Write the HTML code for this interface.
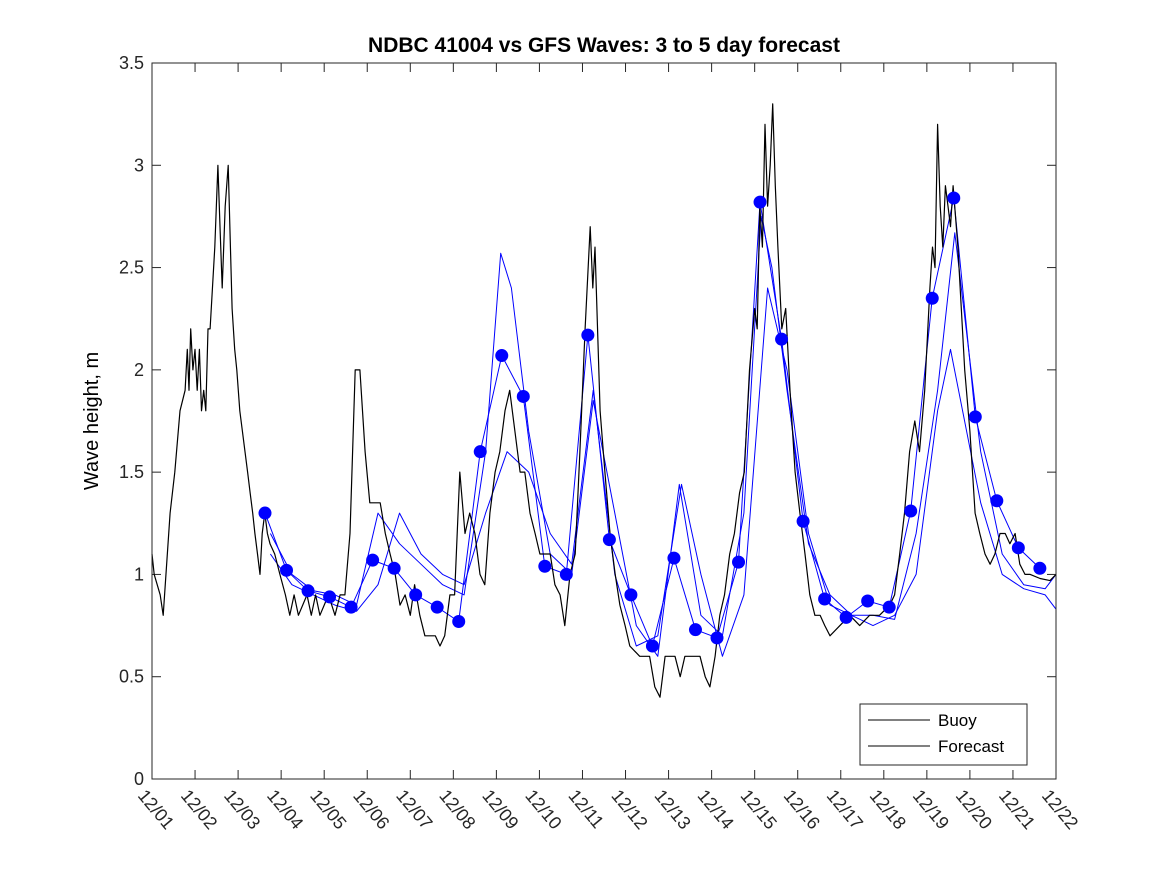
<!DOCTYPE html>
<html><head><meta charset="utf-8"><style>
body{margin:0;background:#fff}
svg{display:block;font-family:"Liberation Sans",sans-serif}
</style></head><body>
<svg id="chart" width="1167" height="875" viewBox="0 0 1167 875" xmlns="http://www.w3.org/2000/svg">
<rect x="0" y="0" width="1167" height="875" fill="#fff"/>
<text x="604" y="52" text-anchor="middle" font-size="21" font-weight="bold">NDBC 41004 vs GFS Waves: 3 to 5 day forecast</text>
<text transform="translate(98,421) rotate(-90)" text-anchor="middle" font-size="20">Wave height, m</text>
<g id="grid"></g>
<g id="series"></g>
<rect x="152" y="63" width="904" height="716" fill="none" stroke="#262626" stroke-width="1"/>
<g>
<rect x="860" y="704" width="167" height="61" fill="#fff" stroke="#262626" stroke-width="1"/>
<line x1="868" y1="720" x2="930" y2="720" stroke="#000" stroke-width="1"/>
<text x="938" y="726" font-size="17">Buoy</text>
<line x1="868" y1="746" x2="930" y2="746" stroke="#000" stroke-width="1"/>
<text x="938" y="752" font-size="17">Forecast</text>
</g>
</svg>
<script>
const xTickLabels=["12/01","12/02","12/03","12/04","12/05","12/06","12/07","12/08","12/09","12/10","12/11","12/12","12/13","12/14","12/15","12/16","12/17","12/18","12/19","12/20","12/21","12/22"];
const yTicks=[0,0.5,1,1.5,2,2.5,3,3.5];
const yTickLabels=["0","0.5","1","1.5","2","2.5","3","3.5"];
const buoyDays=[0,0.05,0.19,0.26,0.42,0.53,0.65,0.77,0.82,0.86,0.9,0.95,1.0,1.05,1.1,1.15,1.2,1.25,1.3,1.35,1.46,1.53,1.58,1.63,1.7,1.77,1.86,1.92,1.97,2.04,2.1,2.16,2.22,2.28,2.34,2.39,2.45,2.51,2.56,2.62,2.68,2.74,2.85,2.97,3.1,3.2,3.3,3.4,3.5,3.6,3.7,3.8,3.9,4.0,4.1,4.25,4.37,4.48,4.6,4.66,4.72,4.83,4.95,5.06,5.18,5.3,5.42,5.53,5.65,5.76,5.88,6.0,6.1,6.22,6.34,6.46,6.58,6.69,6.8,6.92,7.03,7.15,7.27,7.38,7.5,7.62,7.73,7.85,7.97,8.08,8.2,8.31,8.43,8.55,8.66,8.78,8.9,9.01,9.13,9.25,9.36,9.48,9.59,9.71,9.83,9.94,10.06,10.18,10.24,10.29,10.41,10.52,10.64,10.76,10.87,10.99,11.1,11.33,11.45,11.56,11.68,11.8,11.92,12.03,12.15,12.27,12.38,12.5,12.73,12.85,12.96,13.08,13.19,13.3,13.42,13.53,13.65,13.76,13.88,14.0,14.06,14.12,14.18,14.24,14.3,14.36,14.42,14.48,14.54,14.63,14.72,14.82,14.94,15.05,15.17,15.28,15.4,15.52,15.63,15.75,15.98,16.21,16.44,16.67,16.9,17.14,17.25,17.37,17.48,17.6,17.72,17.83,17.95,18.07,18.13,18.19,18.25,18.31,18.37,18.43,18.49,18.55,18.61,18.72,18.8,18.88,19.0,19.12,19.23,19.35,19.47,19.58,19.7,19.82,19.93,20.05,20.16,20.28,20.4,20.63,20.86,21.0];
const buoyVals=[1.1,1.0,0.9,0.8,1.3,1.5,1.8,1.9,2.1,1.9,2.2,2.0,2.1,1.9,2.1,1.8,1.9,1.8,2.2,2.2,2.6,3.0,2.7,2.4,2.8,3.0,2.3,2.1,2.0,1.8,1.7,1.6,1.5,1.4,1.3,1.2,1.1,1.0,1.2,1.3,1.2,1.15,1.1,1.0,0.9,0.8,0.9,0.8,0.85,0.9,0.8,0.9,0.8,0.85,0.9,0.8,0.9,0.9,1.2,1.6,2.0,2.0,1.6,1.35,1.35,1.35,1.2,1.1,1.0,0.85,0.9,0.8,0.95,0.8,0.7,0.7,0.7,0.65,0.7,0.9,0.9,1.5,1.2,1.3,1.2,1.0,0.95,1.3,1.5,1.6,1.8,1.9,1.7,1.5,1.5,1.3,1.2,1.1,1.1,1.1,0.95,0.9,0.75,1.0,1.1,1.6,2.2,2.7,2.4,2.6,1.8,1.5,1.2,1.0,0.85,0.75,0.65,0.6,0.6,0.6,0.45,0.4,0.6,0.6,0.6,0.5,0.6,0.6,0.6,0.5,0.45,0.6,0.8,0.9,1.1,1.2,1.4,1.5,2.0,2.3,2.2,2.8,2.6,3.2,2.8,3.0,3.3,2.9,2.6,2.2,2.3,1.9,1.5,1.3,1.1,0.9,0.8,0.8,0.75,0.7,0.75,0.8,0.75,0.8,0.8,0.85,0.9,1.1,1.3,1.6,1.75,1.6,1.9,2.4,2.6,2.5,3.2,2.8,2.6,2.9,2.8,2.7,2.9,2.6,2.3,2.0,1.7,1.3,1.2,1.1,1.05,1.1,1.2,1.2,1.15,1.2,1.05,1.0,1.0,0.98,0.97,1.0];
const dotDays=[2.625,3.125,3.625,4.125,4.625,5.125,5.625,6.125,6.625,7.125,7.625,8.125,8.625,9.125,9.625,10.125,10.625,11.125,11.625,12.125,12.625,13.125,13.625,14.125,14.625,15.125,15.625,16.125,16.625,17.125,17.625,18.125,18.625,19.125,19.625,20.125,20.625];
const dotVals=[1.30,1.02,0.92,0.89,0.84,1.07,1.03,0.90,0.84,0.77,1.60,2.07,1.87,1.04,1.00,2.17,1.17,0.90,0.65,1.08,0.73,0.69,1.06,2.82,2.15,1.26,0.88,0.79,0.87,0.84,1.31,2.35,2.84,1.77,1.36,1.13,1.03];
const fcBDays=[2.75,3.25,3.75,4.25,4.75,5.25,5.75,6.25,6.75,7.25,7.75,8.1,8.35,8.75,9.25,9.75,10.25,10.75,11.25,11.75,12.25,12.75,13.25,13.75,14.15,14.4,14.75,15.25,15.75,16.25,16.75,17.25,17.75,18.25,18.65,19.25,19.75,20.25,20.75,21.0];
const fcBVals=[1.2,1.0,0.92,0.9,0.85,1.3,1.15,1.05,0.95,0.9,1.6,2.57,2.4,1.7,1.1,1.0,1.85,1.3,0.75,0.6,1.44,0.8,0.7,1.3,2.75,2.5,1.9,1.15,0.9,0.8,0.8,0.78,1.2,1.9,2.67,1.6,1.1,0.95,0.93,1.0];
const fcCDays=[2.75,3.25,3.75,4.25,4.75,5.25,5.75,6.25,6.75,7.25,7.75,8.25,8.75,9.25,9.75,10.25,10.75,11.25,11.75,12.3,12.75,13.25,13.75,14.3,14.75,15.25,15.75,16.25,16.75,17.25,17.75,18.25,18.55,19.25,19.75,20.25,20.75,21.0];
const fcCVals=[1.1,0.95,0.9,0.85,0.82,0.95,1.3,1.1,1.0,0.95,1.3,1.6,1.5,1.2,1.05,1.9,1.0,0.65,0.7,1.44,1.0,0.6,0.9,2.4,2.0,1.2,0.85,0.8,0.75,0.8,1.0,1.8,2.1,1.35,1.0,0.93,0.9,0.83];

const X0=152,X1=1056,Y0=779,Y1=63,DAYS=21,YMAX=3.5;
const xs=d=>X0+d/DAYS*(X1-X0);
const ys=v=>Y0-v/YMAX*(Y0-Y1);
const NS="http://www.w3.org/2000/svg";
const grid=document.getElementById('grid'),ser=document.getElementById('series');
function mk(tag,parent,attrs){const e=document.createElementNS(NS,tag);for(const k in attrs)e.setAttribute(k,attrs[k]);parent.appendChild(e);return e;}

xTickLabels.forEach((lab,i)=>{
  const x=xs(i);
  const t1=mk('line',grid,{x1:x,y1:Y0,x2:x,y2:Y0-9,stroke:'#262626'});
  
  
  const t2=mk('line',grid,{x1:x,y1:Y1,x2:x,y2:Y1+9,stroke:'#262626'});
  
  
  const tx=mk('text',grid,{transform:`translate(${x-15},${Y0+17}) rotate(50)`,'font-size':'18',fill:'#262626'});
  tx.textContent=lab;
  
  
});
yTicks.forEach((v,i)=>{
  const y=ys(v);
  const t1=mk('line',grid,{x1:X0,y1:y,x2:X0+9,y2:y,stroke:'#262626'});
  
  
  const t2=mk('line',grid,{x1:X1,y1:y,x2:X1-9,y2:y,stroke:'#262626'});
  
  
  const tx=mk('text',grid,{x:X0-8,y:y+6,'text-anchor':'end','font-size':'18',fill:'#262626'});
  tx.textContent=yTickLabels[i];
  
  
});
function line(days,vals,color,name,w){
  const p=days.map((d,i)=>xs(d).toFixed(1)+','+ys(vals[i]).toFixed(1)).join(' ');
  const e=mk('polyline',ser,{points:p,fill:'none',stroke:color,'stroke-width':w,'stroke-linejoin':'round'});
  
  
}
line(fcBDays,fcBVals,'#0000ff','forecast-line-b','1');
line(fcCDays,fcCVals,'#0000ff','forecast-line-c','1');
line(dotDays,dotVals,'#0000ff','forecast-line-a','1');
line(buoyDays,buoyVals,'#000','buoy-line','1.2');
dotDays.forEach((d,i)=>{
  const c=mk('circle',ser,{cx:xs(d),cy:ys(dotVals[i]),r:6.5,fill:'#0000ff'});
  
  
});
</script>
</body></html>
